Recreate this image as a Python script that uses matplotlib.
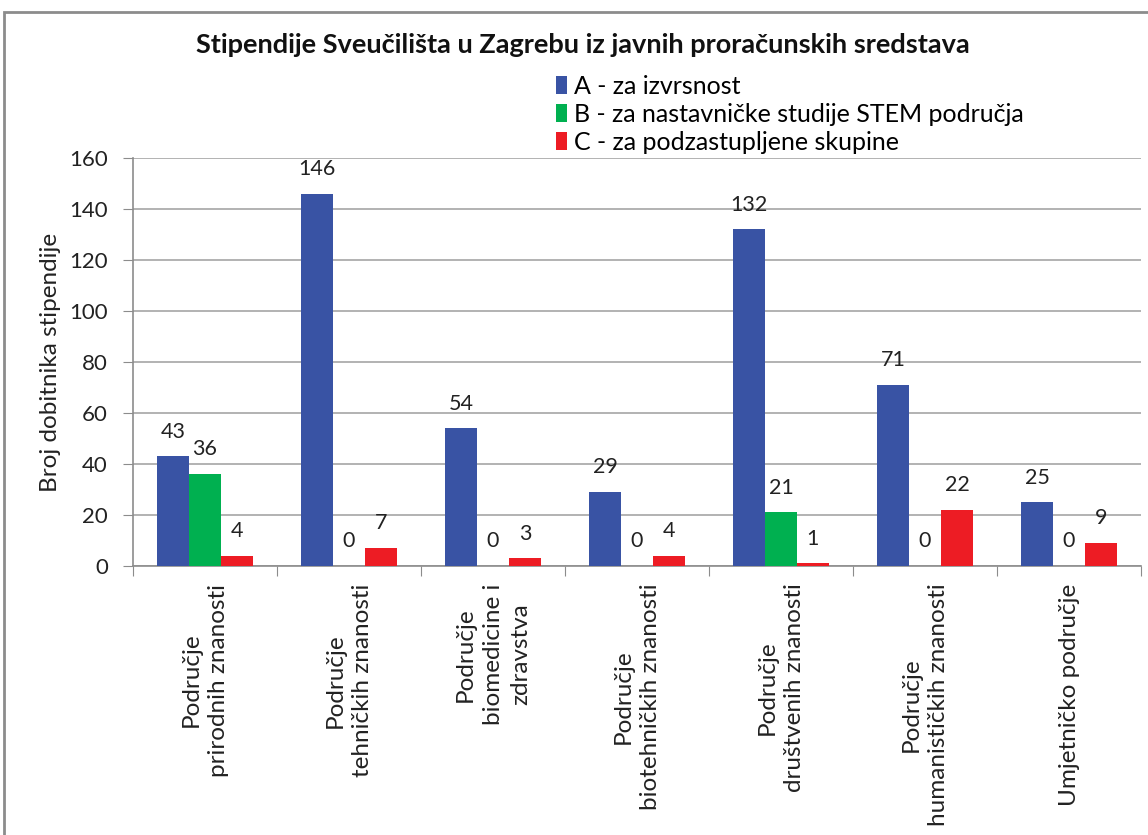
import matplotlib.pyplot as plt
import numpy as np
from matplotlib.patches import Rectangle

plt.rcParams["font.family"] = ["Lato", "DejaVu Sans"]

categories = [
    "Područje\nprirodnih znanosti",
    "Područje\ntehničkih znanosti",
    "Područje\nbiomedicine i\nzdravstva",
    "Područje\nbiotehničkih znanosti",
    "Područje\ndruštvenih znanosti",
    "Područje\nhumanističkih znanosti",
    "Umjetničko područje",
]
series_names = [
    "A - za izvrsnost",
    "B - za nastavničke studije STEM područja",
    "C - za podzastupljene skupine",
]
values_a = [43, 146, 54, 29, 132, 71, 25]
values_b = [36, 0, 0, 0, 21, 0, 0]
values_c = [4, 7, 3, 4, 1, 22, 9]
colors = ["#3953A4", "#00B050", "#ED1C24"]

W, H = 1148, 835
fig = plt.figure(figsize=(W / 100, H / 100), dpi=100)
ax = fig.add_axes([133 / W, 1 - 566 / H, (1141 - 133) / W, (566 - 158) / H])

# outer chart frame
fig.patches.append(Rectangle((4 / W, -0.1), 1.2, 1 - 12 / H + 0.1, transform=fig.transFigure,
                             fill=False, edgecolor="#8c8c8c", linewidth=2.0))

x = np.arange(len(categories))
bw = 0.222
for i, (vals, name, col) in enumerate(zip([values_a, values_b, values_c], series_names, colors)):
    pos = x + (i - 1) * bw
    ax.bar(pos, vals, width=bw, color=col, label=name, zorder=3)
    for px, v in zip(pos, vals):
        ax.annotate(str(v), (px, v), xytext=(0, 13.5), textcoords="offset points",
                    ha="center", va="baseline", fontsize=15.5, color="#222222")

ax.set_xlim(-0.5, len(categories) - 0.5)
ax.set_ylim(0, 160)
ax.set_yticks(range(0, 161, 20))
ax.yaxis.grid(True, color="#a6a6a6", linewidth=1.2, zorder=0)
ax.set_axisbelow(True)

ax.set_xticks(np.arange(len(categories) + 1) - 0.5)
ax.set_xticklabels([])
ax.tick_params(axis="x", length=7, color="#8c8c8c", direction="out")
ax.tick_params(axis="y", length=7, color="#8c8c8c", direction="out", labelsize=16, pad=11)
for lab in ax.get_yticklabels():
    lab.set_color("#222222")

for s in ["top", "right"]:
    ax.spines[s].set_visible(False)
for s in ["left", "bottom"]:
    ax.spines[s].set_color("#8c8c8c")
    ax.spines[s].set_linewidth(1.2)

for xi, cat in zip(x, categories):
    ax.text(xi, -0.043, cat, transform=ax.get_xaxis_transform(), rotation=90,
            ha="center", va="top", multialignment="center", fontsize=17.5,
            linespacing=1.4, color="#222222")

ax.set_ylabel("Broj dobitnika stipendije", fontsize=17.5, color="#222222", labelpad=6)

fig.text(583 / W, 1 - 45 / H, "Stipendije Sveučilišta u Zagrebu iz javnih proračunskih sredstava",
         ha="center", va="center", fontsize=19.5, fontweight="bold", color="#111111")

leg = ax.legend(loc="upper left", bbox_to_anchor=(543 / W, 1 - 62 / H), bbox_transform=fig.transFigure,
                frameon=False, fontsize=18, handlelength=0.45, handleheight=0.75,
                handletextpad=0.3, labelspacing=0.2, borderpad=0)

fig.savefig("out.png", dpi=100)
